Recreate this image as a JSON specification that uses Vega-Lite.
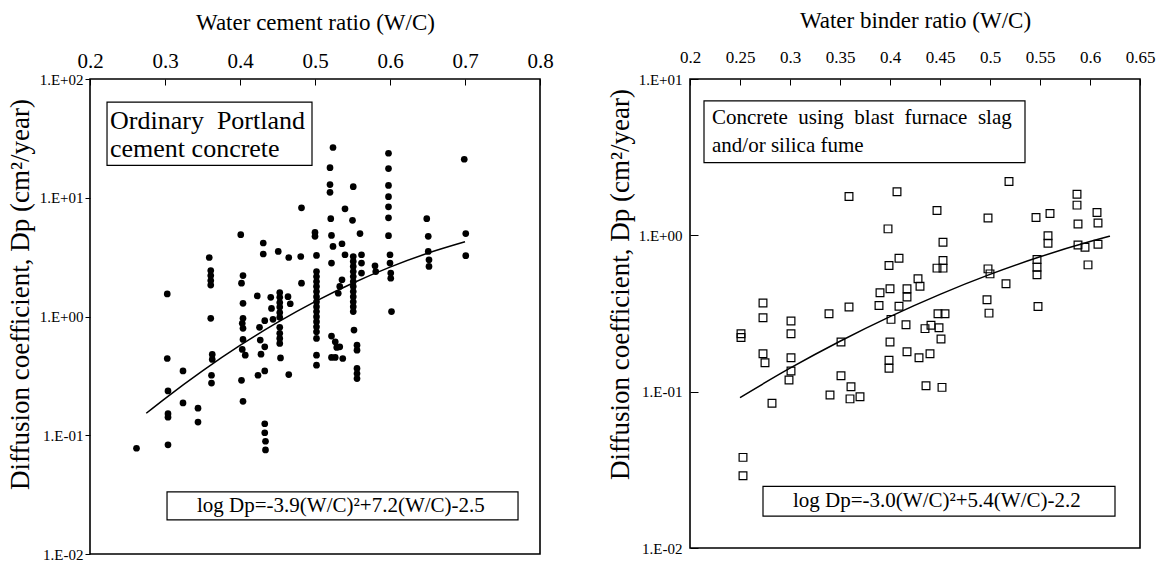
{
  "$schema": "https://vega.github.io/schema/vega-lite/v6.json",
  "background": "white",
  "padding": {"left": 5, "top": 8, "right": 5, "bottom": 5},
  "config": {
    "font": "Liberation Serif",
    "view": {"stroke": "black", "strokeWidth": 1.6},
    "axis": {"grid": false, "domain": false, "tickColor": "black", "labelColor": "black", "titleColor": "black", "titleFontWeight": "normal", "labelFlush": false, "labelOverlap": false, "labelFont": "Liberation Serif", "titleFont": "Liberation Serif"},
    "concat": {"spacing": 51}
  },
  "datasets": {
    "opc": [
      {"wc":0.262,"dp":0.0777},{"wc":0.304,"dp":0.083},{"wc":0.304,"dp":0.142},{"wc":0.304,"dp":0.152},{"wc":0.304,"dp":0.236},{"wc":0.303,"dp":0.443},{"wc":0.303,"dp":1.55},
      {"wc":0.324,"dp":0.348},{"wc":0.324,"dp":0.187},{"wc":0.344,"dp":0.169},{"wc":0.344,"dp":0.129},
      {"wc":0.359,"dp":3.14},{"wc":0.361,"dp":2.44},{"wc":0.361,"dp":2.21},{"wc":0.361,"dp":2.01},{"wc":0.361,"dp":1.84},{"wc":0.361,"dp":0.966},{"wc":0.363,"dp":0.479},{"wc":0.363,"dp":0.435},{"wc":0.362,"dp":0.32},{"wc":0.362,"dp":0.275},
      {"wc":0.401,"dp":4.89},{"wc":0.404,"dp":2.21},{"wc":0.402,"dp":1.91},{"wc":0.404,"dp":1.29},{"wc":0.404,"dp":0.966},{"wc":0.403,"dp":0.876},{"wc":0.404,"dp":0.795},{"wc":0.404,"dp":0.641},{"wc":0.403,"dp":0.528},{"wc":0.407,"dp":0.472},{"wc":0.402,"dp":0.29},{"wc":0.404,"dp":0.193},
      {"wc":0.431,"dp":4.16},{"wc":0.431,"dp":3.36},{"wc":0.451,"dp":3.53},{"wc":0.465,"dp":3.14},{"wc":0.481,"dp":3.2},{"wc":0.482,"dp":1.91},{"wc":0.423,"dp":1.49},{"wc":0.441,"dp":1.45},{"wc":0.442,"dp":1.17},
      {"wc":0.453,"dp":1.59},{"wc":0.453,"dp":1.45},{"wc":0.453,"dp":1.31},{"wc":0.453,"dp":1.2},{"wc":0.453,"dp":1.08},{"wc":0.453,"dp":0.984},{"wc":0.464,"dp":1.47},{"wc":0.467,"dp":1.28},
      {"wc":0.433,"dp":0.922},{"wc":0.444,"dp":0.947},{"wc":0.426,"dp":0.81},{"wc":0.453,"dp":0.81},{"wc":0.453,"dp":0.721},{"wc":0.453,"dp":0.654},{"wc":0.453,"dp":0.593},{"wc":0.427,"dp":0.633},{"wc":0.433,"dp":0.555},{"wc":0.428,"dp":0.482},{"wc":0.454,"dp":0.448},{"wc":0.433,"dp":0.348},{"wc":0.424,"dp":0.32},{"wc":0.465,"dp":0.324},
      {"wc":0.433,"dp":0.125},{"wc":0.433,"dp":0.105},{"wc":0.434,"dp":0.089},{"wc":0.434,"dp":0.0753},
      {"wc":0.482,"dp":8.22},{"wc":0.5,"dp":5.11},{"wc":0.5,"dp":4.73},{"wc":0.502,"dp":3.27},
      {"wc":0.502,"dp":2.39},{"wc":0.502,"dp":2.17},{"wc":0.502,"dp":1.97},{"wc":0.502,"dp":1.79},{"wc":0.502,"dp":1.62},{"wc":0.502,"dp":1.47},{"wc":0.502,"dp":1.33},{"wc":0.502,"dp":1.21},{"wc":0.502,"dp":1.1},{"wc":0.502,"dp":0.996},{"wc":0.502,"dp":0.904},{"wc":0.502,"dp":0.82},{"wc":0.502,"dp":0.744},{"wc":0.502,"dp":0.654},{"wc":0.502,"dp":0.472},{"wc":0.502,"dp":0.389},
      {"wc":0.524,"dp":26.5},{"wc":0.52,"dp":17.9},{"wc":0.52,"dp":12.9},{"wc":0.52,"dp":11.1},{"wc":0.521,"dp":6.67},{"wc":0.522,"dp":4.82},{"wc":0.524,"dp":3.89},{"wc":0.536,"dp":4.1},{"wc":0.522,"dp":2.82},{"wc":0.54,"dp":3.31},
      {"wc":0.551,"dp":12.4},{"wc":0.54,"dp":8.07},{"wc":0.55,"dp":6.46},{"wc":0.56,"dp":4.99},
      {"wc":0.551,"dp":3.2},{"wc":0.551,"dp":2.91},{"wc":0.551,"dp":2.64},{"wc":0.551,"dp":2.39},{"wc":0.551,"dp":2.17},{"wc":0.551,"dp":1.97},{"wc":0.551,"dp":1.79},{"wc":0.551,"dp":1.62},{"wc":0.551,"dp":1.47},{"wc":0.551,"dp":1.33},{"wc":0.551,"dp":1.21},{"wc":0.551,"dp":1.1},
      {"wc":0.562,"dp":3.31},{"wc":0.562,"dp":2.82},{"wc":0.562,"dp":2.32},{"wc":0.536,"dp":2.04},{"wc":0.533,"dp":1.79},{"wc":0.531,"dp":1.57},
      {"wc":0.522,"dp":0.684},{"wc":0.527,"dp":0.612},{"wc":0.529,"dp":0.549},{"wc":0.533,"dp":0.555},{"wc":0.522,"dp":0.452},{"wc":0.527,"dp":0.452},{"wc":0.537,"dp":0.443},
      {"wc":0.552,"dp":0.769},{"wc":0.556,"dp":0.574},{"wc":0.556,"dp":0.521},{"wc":0.556,"dp":0.365},{"wc":0.556,"dp":0.331},{"wc":0.556,"dp":0.3},
      {"wc":0.58,"dp":2.67},{"wc":0.581,"dp":2.39},
      {"wc":0.598,"dp":23.7},{"wc":0.598,"dp":17.6},{"wc":0.598,"dp":12.7},{"wc":0.598,"dp":10.2},{"wc":0.598,"dp":8.38},{"wc":0.598,"dp":6.77},{"wc":0.598,"dp":4.79},
      {"wc":0.6,"dp":3.31},{"wc":0.6,"dp":2.82},{"wc":0.601,"dp":2.32},{"wc":0.601,"dp":2.1},{"wc":0.602,"dp":1.1},
      {"wc":0.649,"dp":6.67},{"wc":0.651,"dp":4.73},{"wc":0.651,"dp":3.53},{"wc":0.652,"dp":3.0},{"wc":0.652,"dp":2.64},
      {"wc":0.699,"dp":21.1},{"wc":0.701,"dp":4.99},{"wc":0.701,"dp":3.25}
    ],
    "opcFit": [
      {"wc":0.275,"dp":0.1532},{"wc":0.3,"dp":0.2037},{"wc":0.35,"dp":0.3485},{"wc":0.4,"dp":0.5702},{"wc":0.45,"dp":0.8917},{"wc":0.5,"dp":1.334},{"wc":0.55,"dp":1.907},{"wc":0.6,"dp":2.606},{"wc":0.65,"dp":3.406},{"wc":0.7,"dp":4.256}
    ],
    "opcBoxes": [
      {"wc":0.2227,"wc2":0.496,"dp":63.9,"dp2":18.7},
      {"wc":0.3027,"wc2":0.7707,"dp":0.0334,"dp2":0.0194}
    ],
    "opcText": [
      {"wc":0.2267,"dp":44.2,"t":"Ordinary\u00a0 Portland","size":26},
      {"wc":0.2267,"dp":25.6,"t":"cement concrete","size":26},
      {"wc":0.3427,"dp":0.0255,"t":"log Dp=-3.9(W/C)²+7.2(W/C)-2.5","size":21}
    ],
    "bfs": [
      {"wc":0.251,"dp":0.235},{"wc":0.251,"dp":0.222},{"wc":0.253,"dp":0.038},{"wc":0.253,"dp":0.029},
      {"wc":0.273,"dp":0.369},{"wc":0.273,"dp":0.297},{"wc":0.273,"dp":0.175},{"wc":0.275,"dp":0.153},{"wc":0.282,"dp":0.0842},
      {"wc":0.301,"dp":0.283},{"wc":0.301,"dp":0.235},{"wc":0.301,"dp":0.165},{"wc":0.301,"dp":0.1355},{"wc":0.299,"dp":0.1187},
      {"wc":0.339,"dp":0.315},{"wc":0.351,"dp":0.208},{"wc":0.351,"dp":0.1265},{"wc":0.359,"dp":0.348},{"wc":0.361,"dp":0.1076},{"wc":0.34,"dp":0.0953},{"wc":0.36,"dp":0.0899},{"wc":0.37,"dp":0.0929},{"wc":0.359,"dp":1.77},
      {"wc":0.389,"dp":0.356},{"wc":0.39,"dp":0.429},{"wc":0.4,"dp":0.455},{"wc":0.398,"dp":1.1},{"wc":0.399,"dp":0.641},{"wc":0.409,"dp":0.714},{"wc":0.407,"dp":1.9},{"wc":0.409,"dp":0.352},{"wc":0.401,"dp":0.29},{"wc":0.4,"dp":0.208},{"wc":0.399,"dp":0.159},{"wc":0.399,"dp":0.141},
      {"wc":0.417,"dp":0.455},{"wc":0.417,"dp":0.403},{"wc":0.416,"dp":0.268},{"wc":0.417,"dp":0.18},{"wc":0.428,"dp":0.527},{"wc":0.429,"dp":0.165},{"wc":0.43,"dp":0.473},{"wc":0.44,"dp":0.175},
      {"wc":0.435,"dp":0.253},{"wc":0.441,"dp":0.266},{"wc":0.449,"dp":0.256},{"wc":0.451,"dp":0.217},{"wc":0.448,"dp":0.315},{"wc":0.455,"dp":0.315},{"wc":0.436,"dp":0.109},{"wc":0.452,"dp":0.1065},
      {"wc":0.447,"dp":1.44},{"wc":0.453,"dp":0.902},{"wc":0.453,"dp":0.69},{"wc":0.447,"dp":0.617},{"wc":0.453,"dp":0.617},
      {"wc":0.498,"dp":1.29},{"wc":0.498,"dp":0.61},{"wc":0.5,"dp":0.567},{"wc":0.497,"dp":0.387},{"wc":0.499,"dp":0.318},{"wc":0.516,"dp":0.49},{"wc":0.519,"dp":2.21},
      {"wc":0.546,"dp":1.3},{"wc":0.56,"dp":1.38},{"wc":0.558,"dp":0.995},{"wc":0.558,"dp":0.889},{"wc":0.547,"dp":0.7},{"wc":0.547,"dp":0.625},{"wc":0.547,"dp":0.559},{"wc":0.548,"dp":0.351},
      {"wc":0.587,"dp":1.83},{"wc":0.587,"dp":1.56},{"wc":0.588,"dp":1.18},{"wc":0.588,"dp":0.868},{"wc":0.595,"dp":0.839},{"wc":0.598,"dp":0.647},{"wc":0.607,"dp":1.4},{"wc":0.608,"dp":1.2},{"wc":0.608,"dp":0.876}
    ],
    "bfsFit": [
      {"wc":0.25,"dp":0.0917},{"wc":0.3,"dp":0.1413},{"wc":0.35,"dp":0.2101},{"wc":0.4,"dp":0.302},{"wc":0.45,"dp":0.4194},{"wc":0.5,"dp":0.5623},{"wc":0.55,"dp":0.7286},{"wc":0.6,"dp":0.912},{"wc":0.62,"dp":0.988}
    ],
    "bfsBoxes": [
      {"wc":0.214,"wc2":0.535,"dp":7.24,"dp2":2.92},
      {"wc":0.273,"wc2":0.625,"dp":0.0248,"dp2":0.016}
    ],
    "bfsText": [
      {"wc":0.222,"dp":5.64,"t":"Concrete\u00a0 using\u00a0 blast\u00a0 furnace\u00a0 slag","size":21},
      {"wc":0.222,"dp":3.74,"t":"and/or silica fume","size":21},
      {"wc":0.303,"dp":0.0199,"t":"log Dp=-3.0(W/C)²+5.4(W/C)-2.2","size":21}
    ]
  },
  "hconcat": [
    {
      "width": 450,
      "height": 475,
      "encoding": {
        "x": {"field": "wc", "type": "quantitative", "scale": {"domain": [0.2, 0.8], "nice": false, "zero": false},
          "axis": {"orient": "top", "title": "Water cement ratio (W/C)", "values": [0.2, 0.3, 0.4, 0.5, 0.6, 0.7, 0.8], "format": ".1f", "labelFontSize": 21, "titleFontSize": 23, "tickSize": -6, "labelPadding": 14, "titlePadding": 16}},
        "y": {"field": "dp", "type": "quantitative", "scale": {"type": "log", "domain": [0.01, 100], "nice": false},
          "axis": {"title": "Diffusion coefficient, Dp (cm²/year)", "values": [0.01, 0.1, 1, 10, 100], "labelExpr": "datum.value >= 100 ? '1.E+02' : datum.value >= 10 ? '1.E+01' : datum.value >= 1 ? '1.E+00' : datum.value >= 0.1 ? '1.E-01' : '1.E-02'", "labelFontSize": 15, "titleFontSize": 27, "titleY": 215, "tickSize": 5, "labelPadding": 2, "titlePadding": 5}}
      },
      "layer": [
        {"data": {"name": "opcBoxes"}, "mark": {"type": "rect", "fill": "white", "stroke": "black", "strokeWidth": 1.2}, "encoding": {"x2": {"field": "wc2"}, "y2": {"field": "dp2"}}},
        {"data": {"name": "opc"}, "mark": {"type": "circle", "color": "black", "size": 45, "opacity": 1}},
        {"data": {"name": "opcFit"}, "mark": {"type": "line", "color": "black", "strokeWidth": 1.5, "interpolate": "monotone"}},
        {"data": {"name": "opcText"}, "mark": {"type": "text", "align": "left", "baseline": "middle", "color": "black", "font": "Liberation Serif"}, "encoding": {"text": {"field": "t"}, "size": {"field": "size", "type": "quantitative", "scale": null}}}
      ]
    },
    {
      "width": 450,
      "height": 469,
      "encoding": {
        "x": {"field": "wc", "type": "quantitative", "scale": {"domain": [0.2, 0.65], "nice": false, "zero": false},
          "axis": {"orient": "top", "title": "Water binder ratio (W/C)", "values": [0.2, 0.25, 0.3, 0.35, 0.4, 0.45, 0.5, 0.55, 0.6, 0.65], "format": "~g", "labelFontSize": 17, "titleFontSize": 23, "tickSize": -6, "labelPadding": 19, "titlePadding": 16}},
        "y": {"field": "dp", "type": "quantitative", "scale": {"type": "log", "domain": [0.01, 10], "nice": false},
          "axis": {"title": "Diffusion coefficient, Dp (cm²/year)", "values": [0.01, 0.1, 1, 10], "labelExpr": "datum.value >= 10 ? '1.E+01' : datum.value >= 1 ? '1.E+00' : datum.value >= 0.1 ? '1.E-01' : '1.E-02'", "labelFontSize": 15, "titleFontSize": 27, "titleY": 205, "tickSize": -8, "labelPadding": 16, "titlePadding": 4}}
      },
      "layer": [
        {"data": {"name": "bfsBoxes"}, "mark": {"type": "rect", "fill": "white", "stroke": "black", "strokeWidth": 1.2}, "encoding": {"x2": {"field": "wc2"}, "y2": {"field": "dp2"}}},
        {"data": {"name": "bfs"}, "mark": {"type": "square", "filled": false, "stroke": "black", "strokeWidth": 1.2, "size": 60, "opacity": 1}},
        {"data": {"name": "bfsFit"}, "mark": {"type": "line", "color": "black", "strokeWidth": 1.5, "interpolate": "monotone"}},
        {"data": {"name": "bfsText"}, "mark": {"type": "text", "align": "left", "baseline": "middle", "color": "black", "font": "Liberation Serif"}, "encoding": {"text": {"field": "t"}, "size": {"field": "size", "type": "quantitative", "scale": null}}}
      ]
    }
  ]
}
